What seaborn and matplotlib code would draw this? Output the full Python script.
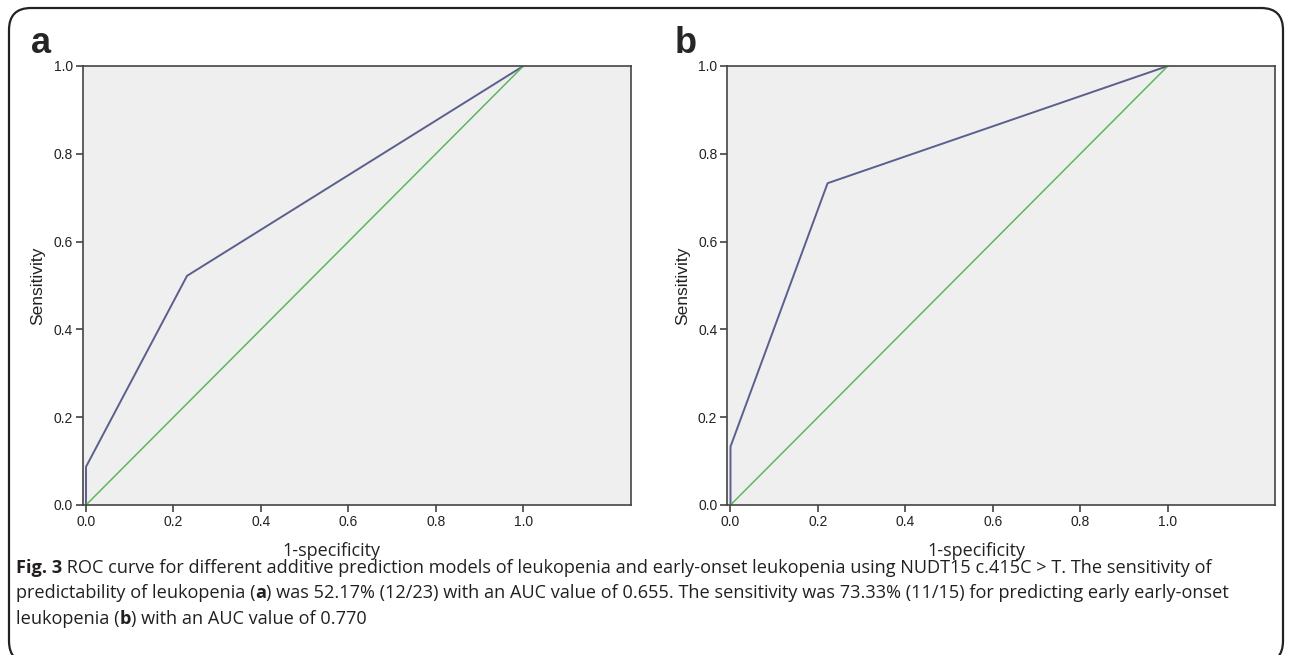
import seaborn as sns
import matplotlib.pyplot as plt
from matplotlib.patches import FancyBboxPatch
from matplotlib.transforms import IdentityTransform

# ROC curve points (1-specificity, sensitivity)
fpr_a = [0.0, 0.0, 0.231, 1.0]
tpr_a = [0.0, 0.087, 0.522, 1.0]
fpr_b = [0.0, 0.0, 0.222, 1.0]
tpr_b = [0.0, 0.133, 0.733, 1.0]
ref_x = [0.0, 1.0]
ref_y = [0.0, 1.0]

panel_labels = ["a", "b"]
x_ticks = [0.0, 0.2, 0.4, 0.6, 0.8, 1.0]
y_ticks = [0.0, 0.2, 0.4, 0.6, 0.8, 1.0]

# caption runs: (text, bold)
caption_lines = [
    [("Fig. 3", True),
     (" ROC curve for different additive prediction models of leukopenia and early-onset "
      "leukopenia using NUDT15 c.415C > T. The sensitivity of", False)],
    [("predictability of leukopenia (", False), ("a", True),
     (") was 52.17% (12/23) with an AUC value of 0.655. The sensitivity was 73.33% (11/15) "
      "for predicting early early-onset", False)],
    [("leukopenia (", False), ("b", True), (") with an AUC value of 0.770", False)],
]

sns.set_style("white")
plt.rcParams['font.family'] = ['Liberation Sans', 'DejaVu Sans']

W, H = 1290, 655
fig = plt.figure(figsize=(W / 100, H / 100), dpi=100)

# rounded frame round the whole figure
frame = FancyBboxPatch((9, -8), 1274, 655, boxstyle="round,pad=0,rounding_size=22",
                       transform=IdentityTransform(), fill=False, lw=1.6, ec="#222222")
fig.patches.append(frame)

blue = "#5b5f8e"
green = "#5cb85c"
panels = [(fpr_a, tpr_a, 82.5), (fpr_b, tpr_b, 727)]

for (fpr, tpr, left), lab in zip(panels, panel_labels):
    ax = fig.add_axes([left / W, 1 - 505 / H, 548 / W, 439 / H])
    ax.set_facecolor("#efefef")
    sns.lineplot(x=fpr, y=tpr, sort=False, estimator=None, color=blue, lw=1.4, ax=ax)
    sns.lineplot(x=ref_x, y=ref_y, sort=False, estimator=None, color=green, lw=1.1, ax=ax)
    ax.set_xlim(-0.008, 1.245)
    ax.set_ylim(0, 1.0)
    ax.set_xticks(x_ticks)
    ax.set_yticks(y_ticks)
    ax.set_xticklabels([f"{t:.1f}" for t in x_ticks])
    ax.set_yticklabels([f"{t:.1f}" for t in y_ticks])
    ax.tick_params(bottom=True, left=True, direction="out", length=5, width=1.1,
                   color="#333333", labelsize=10, labelcolor="#222222", pad=2)
    for s in ax.spines.values():
        s.set_color("#444444")
        s.set_linewidth(1.2)
    ax.set_xlabel("1-specificity", fontsize=13, family=["Open Sans", "DejaVu Sans"],
                  color="#222222")
    ax.xaxis.set_label_coords(0.455, -0.085)
    ax.set_ylabel("Sensitivity", fontsize=12.5, color="#222222")
    ax.yaxis.set_label_coords(-0.068, 0.5)
    fig.text((left - 52) / W, 1 - 53 / H, lab, fontsize=26, fontweight="bold",
             va="baseline", ha="left")

# caption, drawn run by run so bold pieces sit inline
renderer = fig.canvas.get_renderer()
cap_y = [573, 598, 624]
for runs, y in zip(caption_lines, cap_y):
    x = 16
    for txt, bold in runs:
        t = fig.text(x / W, 1 - y / H, txt, fontsize=13.1, family=["Open Sans", "DejaVu Sans"],
                     fontweight="bold" if bold else "normal", color="#231f20",
                     va="baseline", ha="left")
        x += t.get_window_extent(renderer).width

fig.savefig("out.png", dpi=100)
